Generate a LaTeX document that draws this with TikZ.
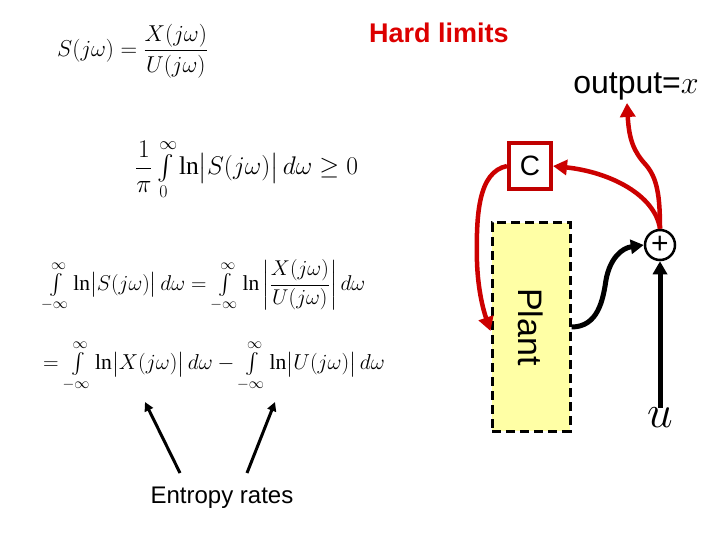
\RequirePackage{fix-cm}
\documentclass[tikz,border=0pt]{standalone}
\usepackage{fontspec}
\usepackage{amsmath}
\setmainfont{Liberation Serif}
\newfontfamily\arial{Liberation Sans}
\usetikzlibrary{arrows.meta}
\definecolor{cred}{RGB}{204,0,0}
\definecolor{cboxred}{RGB}{192,0,0}
\definecolor{plantfill}{RGB}{255,255,165}
\definecolor{hardred}{RGB}{220,0,0}
\tikzset{
  redarrow/.style={draw=cred,line width=4.5pt,-{Triangle[length=14pt,width=15pt]}},
  blackarrow/.style={draw=black,line width=5pt,-{Triangle[length=13pt,width=14pt]}},
  entarrow/.style={draw=black,line width=3pt,-{Triangle[length=9pt,width=9pt]}},
  plantbox/.style={draw=black,line width=3pt,dash pattern=on 9pt off 5pt,fill=plantfill,minimum width=78pt,minimum height=208pt,inner sep=0pt},
  cbox/.style={draw=cboxred,line width=4pt,fill=white,minimum width=42pt,minimum height=46pt,inner sep=0pt,font=\arial\fontsize{28}{30}\selectfont},
  sumnode/.style={circle,draw=black,line width=2.5pt,fill=white,minimum size=30pt,inner sep=0pt,font=\arial\fontsize{30}{30}\selectfont},
  eqn/.style={inner sep=0pt,anchor=west}
}
\begin{document}
\begin{tikzpicture}[x=1pt,y=-1pt]
\useasboundingbox (0,0) rectangle (720,540);
% equations
\node[eqn] (eq1) at (57,51) {\fontsize{23}{27}\selectfont$S(j\omega)=\dfrac{X(j\omega)}{U(j\omega)}$};
\node[eqn] (eq2) at (135,170) {\fontsize{25.5}{29}\selectfont$\dfrac{1}{\pi}\int\limits_0^\infty \ln\bigl|S(j\omega)\bigr|\,d\omega\geq 0$};
\node[eqn] (eq3a) at (43,286) {\fontsize{21.4}{25}\selectfont$\int\limits_{-\infty}^{\infty}\ln\bigl|S(j\omega)\bigr|\,d\omega=\int\limits_{-\infty}^{\infty}\ln\left|\dfrac{X(j\omega)}{U(j\omega)}\right|d\omega$};
\node[eqn] (eq3b) at (43,366) {\fontsize{21.6}{25}\selectfont$=\int\limits_{-\infty}^{\infty}\ln\bigl|X(j\omega)\bigr|\,d\omega-\int\limits_{-\infty}^{\infty}\ln\bigl|U(j\omega)\bigr|\,d\omega$};
% texts
\node[inner sep=0pt,text=hardred,font=\arial\bfseries\fontsize{27}{29}\selectfont] (hard) at (439,33) {Hard limits};
\node[inner sep=0pt,font=\fontsize{32}{34}\selectfont] (outlabel) at (636,86) {{\arial output=}$x$};
\node[inner sep=0pt,font=\arial\fontsize{24}{26}\selectfont] (ent) at (222,498) {Entropy rates};
% diagram
\node[plantbox] (plant) at (531,327) {};
\node[inner sep=0pt,rotate=-90,font=\arial\fontsize{34}{36}\selectfont] (plantlabel) at (531,327) {Plant};
\node[cbox] (C) at (530,166) {C};
\node[sumnode] (sum) at (660,245) {+};
\node[inner sep=0pt,font=\fontsize{46}{46}\selectfont] (u) at (660,418) {$u$};
\coordinate (outtip) at (627,103);
\coordinate (e1s) at (180,473);
\coordinate (e1t) at (145,402);
\coordinate (e2s) at (247,473);
\coordinate (e2t) at (275,402);
% connectors
\draw[redarrow] (sum.north) .. controls (660,195) and (657,178) .. (646,165) .. controls (634,152) and (629,140) .. (outtip);
\draw[redarrow] (sum.north) .. controls (655,195) and (610,172) .. (C.east);
\draw[redarrow] (C.west) .. controls (478,172) and (476,215) .. (477,262) .. controls (478,292) and (484,312) .. ([yshift=-4pt]plant.west);
\draw[blackarrow] (plant.east) .. controls (598,327) and (603,300) .. (606,280) .. controls (610,258) and (622,248) .. (sum.west);
\draw[blackarrow] (u.north) -- (sum.south);
\draw[entarrow] (e1s) -- (e1t);
\draw[entarrow] (e2s) -- (e2t);
\end{tikzpicture}
\end{document}
